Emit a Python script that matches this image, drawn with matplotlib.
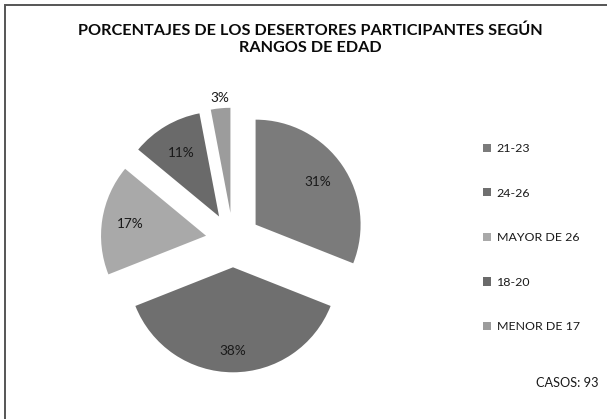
import matplotlib
matplotlib.use("Agg")
import matplotlib.pyplot as plt
from matplotlib.patches import Rectangle, Patch
import numpy as np

labels = ["21-23", "24-26", "MAYOR DE 26", "18-20", "MENOR DE 17"]
values = [31, 38, 17, 11, 3]
colors = ["#7b7b7b", "#6f6f6f", "#a9a9a9", "#6a6a6a", "#9c9c9c"]
title = "PORCENTAJES DE LOS DESERTORES PARTICIPANTES SEGÚN\nRANGOS DE EDAD"
cases = "CASOS: 93"

W, H = 607, 419
fig = plt.figure(figsize=(W / 100, H / 100), dpi=100)
plt.rcParams['font.family'] = ['Lato', 'DejaVu Sans']

# border frame
fig.patches.append(Rectangle((5 / W, -0.1), 1.2, (H - 5) / H + 0.1, transform=fig.transFigure,
                             fill=False, edgecolor="#555555", linewidth=1.4))

R = 105  # pixel radius
cx, cy = 233, H - 240
ax = fig.add_axes([(cx - 1.5 * R) / W, (cy - 1.5 * R) / H, 3 * R / W, 3 * R / H])
ax.set_aspect("equal")
ax.axis("off")

explode = [0.26] * len(values)
wedges, _ = ax.pie(values, colors=colors, startangle=90, counterclock=False,
                   explode=explode, radius=1.0,
                   wedgeprops=dict(edgecolor="none"))
ax.set_xlim(-1.5, 1.5)
ax.set_ylim(-1.5, 1.5)

dists = [0.72, 0.8, 0.73, 0.7, 1.1]
for w, v, d, e in zip(wedges, values, dists, explode):
    ang = np.deg2rad((w.theta1 + w.theta2) / 2)
    ax.text((e + d) * np.cos(ang), (e + d) * np.sin(ang), f"{v}%",
            ha="center", va="center", fontsize=9.8, color="#1a1a1a")

fig.text(310 / W, 1 - 39 / H, title, ha="center", va="center", fontsize=11.7,
         fontweight="bold", color="#0a0a0a", linespacing=1.25)

handles = [Patch(facecolor=c, edgecolor="none") for c in colors]
leg = fig.legend(handles, labels, loc="upper left", bbox_to_anchor=(483 / W, 1 - 143 / H),
                 frameon=False, fontsize=8.9, handlelength=0.65, handleheight=0.65,
                 handletextpad=0.45, labelspacing=2.72, borderpad=0, borderaxespad=0)
for t in leg.get_texts():
    t.set_color("#1a1a1a")

fig.text(598 / W, 1 - 383 / H, cases, ha="right", va="center", fontsize=9.2, color="#1a1a1a")

fig.savefig("out.png", dpi=100)
